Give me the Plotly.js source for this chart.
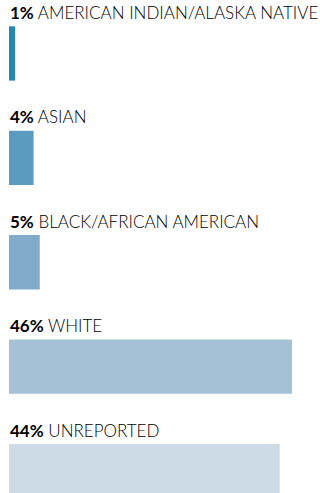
<!DOCTYPE html>
<html>
<head>
<meta charset="utf-8">
<script src="https://cdn.plot.ly/plotly-3.0.1.min.js"></script>
<style>html,body{margin:0;padding:0;background:#fff;}#chart{width:320px;height:493px;}</style>
</head>
<body>
<div id="chart"></div>
<script>
const categories = ["AMERICAN INDIAN/ALASKA NATIVE", "ASIAN", "BLACK/AFRICAN AMERICAN", "WHITE", "UNREPORTED"];
const percents = [1, 4, 5, 46, 44];
const pctLabels = ["1%", "4%", "5%", "46%", "44%"];
const colors = ["#2389b0", "#5b9bc0", "#80abcb", "#a5c1d6", "#ccdbe6"];

const idx = categories.map((c, i) => i);

const trace = {
  type: "bar",
  orientation: "h",
  y: idx,
  x: percents,
  width: 0.52,
  marker: {color: colors},
  hoverinfo: "skip"
};

const annotations = categories.map((c, i) => ({
  xref: "x", yref: "y",
  x: 0, y: i,
  xanchor: "left", yanchor: "middle",
  yshift: 41,
  xshift: -1,
  showarrow: false,
  text: "<b>" + pctLabels[i] + "</b> " + c,
  font: {family: "Lato, 'Open Sans', sans-serif", size: 17, color: "#000", weight: 300}
}));

const layout = {
  width: 320, height: 493,
  margin: {l: 0, r: 0, t: 0, b: 0},
  paper_bgcolor: "#fff", plot_bgcolor: "#fff",
  showlegend: false,
  xaxis: {range: [-1.463, 50.55], visible: false, fixedrange: true},
  yaxis: {range: [4.21, -0.512], visible: false, fixedrange: true},
  annotations: annotations
};

Plotly.newPlot("chart", [trace], layout, {displayModeBar: false, staticPlot: true});
</script>
</body>
</html>
